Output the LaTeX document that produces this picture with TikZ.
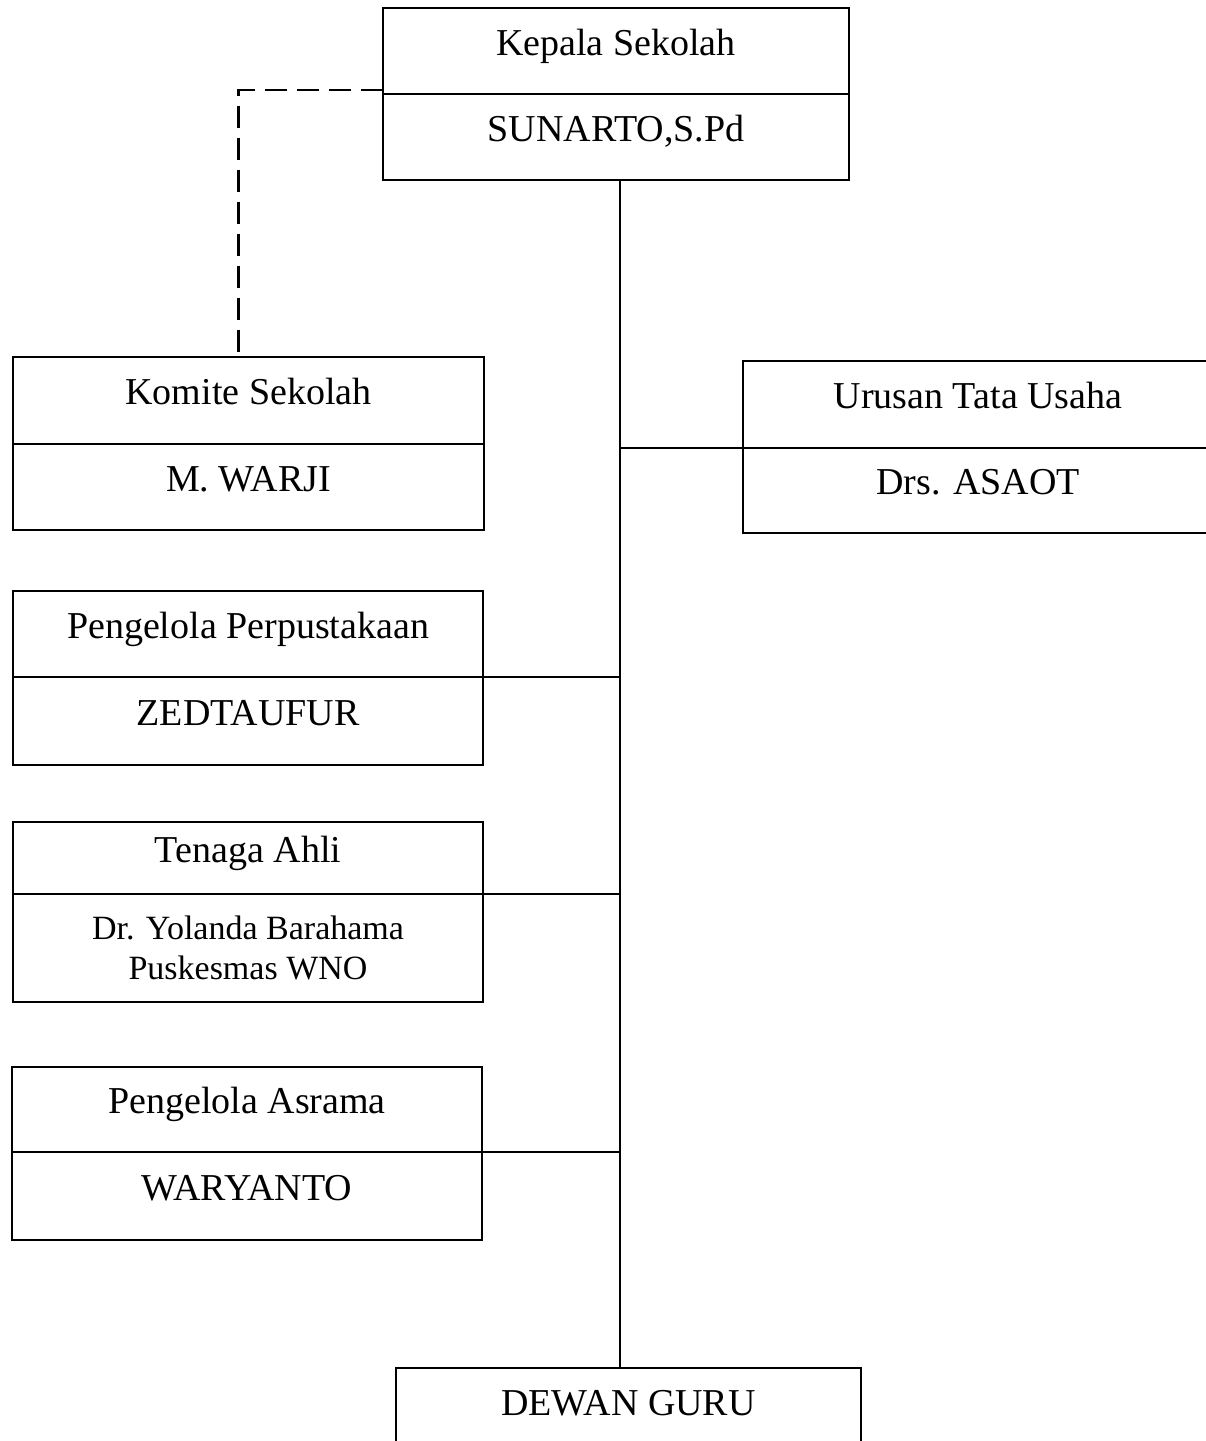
\documentclass[tikz,border=0pt]{standalone}
\usepackage{fontspec}
\setmainfont{Liberation Serif}
\begin{document}
\begin{tikzpicture}[x=1pt,y=-1pt,
  box/.style={draw, line width=2.5pt, inner sep=0pt, outer sep=0pt, align=center},
  cell/.style={box, font=\fontsize{38}{44}\selectfont, text height=20pt, text depth=12pt},
  link/.style={line width=2.5pt},
  dlink/.style={line width=2.8pt, dash pattern=on 22pt off 10pt}]
\useasboundingbox (0,0) rectangle (1206,1441);
\clip (0,0) rectangle (1206,1441);
% Kepala Sekolah
\node[cell, minimum width=466pt, minimum height=86pt] (ks1) at (616,51) {Kepala Sekolah};
\node[cell, minimum width=466pt, minimum height=86pt, anchor=north] (ks2) at (ks1.south) {SUNARTO,S.Pd};
% Komite
\node[cell, minimum width=471pt, minimum height=87pt] (km1) at (248.5,400.5) {Komite Sekolah};
\node[cell, minimum width=471pt, minimum height=86pt, anchor=north] (km2) at (km1.south) {M. WARJI};
% Urusan Tata Usaha
\node[cell, minimum width=470pt, minimum height=87pt] (ut1) at (978,404.5) {Urusan Tata Usaha};
\node[cell, minimum width=470pt, minimum height=85pt, anchor=north] (ut2) at (ut1.south) {Drs. ASAOT};
% Perpustakaan
\node[cell, minimum width=470pt, minimum height=86pt] (pp1) at (248,634) {Pengelola Perpustakaan};
\node[cell, minimum width=470pt, minimum height=88pt, anchor=north] (pp2) at (pp1.south) {ZEDTAUFUR};
% Tenaga Ahli
\node[cell, minimum width=470pt, minimum height=72pt] (ta1) at (248,858) {Tenaga Ahli};
\node[box, minimum width=470pt, minimum height=108pt, anchor=north, font=\fontsize{34}{40}\selectfont] (ta2) at (ta1.south) {Dr. Yolanda Barahama\\Puskesmas WNO};
% Asrama
\node[cell, minimum width=470pt, minimum height=85pt] (as1) at (247,1109.5) {Pengelola Asrama};
\node[cell, minimum width=470pt, minimum height=88pt, anchor=north] (as2) at (as1.south) {WARYANTO};
% Dewan Guru
\node[cell, minimum width=465pt, minimum height=86pt, anchor=north] (dg) at (628.5,1368) {DEWAN GURU};
% connectors
\draw[link] (ks2.south) ++(4,0) coordinate (sp) -- (sp |- dg.north);
\draw[link] (sp |- ut1.south west) -- (ut1.south west);
\draw[link] (pp1.south east) -- (pp1.south east -| sp);
\draw[link] (ta1.south east) -- (ta1.south east -| sp);
\draw[link] (as1.south east) -- (as1.south east -| sp);
\draw[dlink] ([yshift=4pt]ks1.south west) -| ([xshift=-10pt]km1.north);
\end{tikzpicture}
\end{document}
